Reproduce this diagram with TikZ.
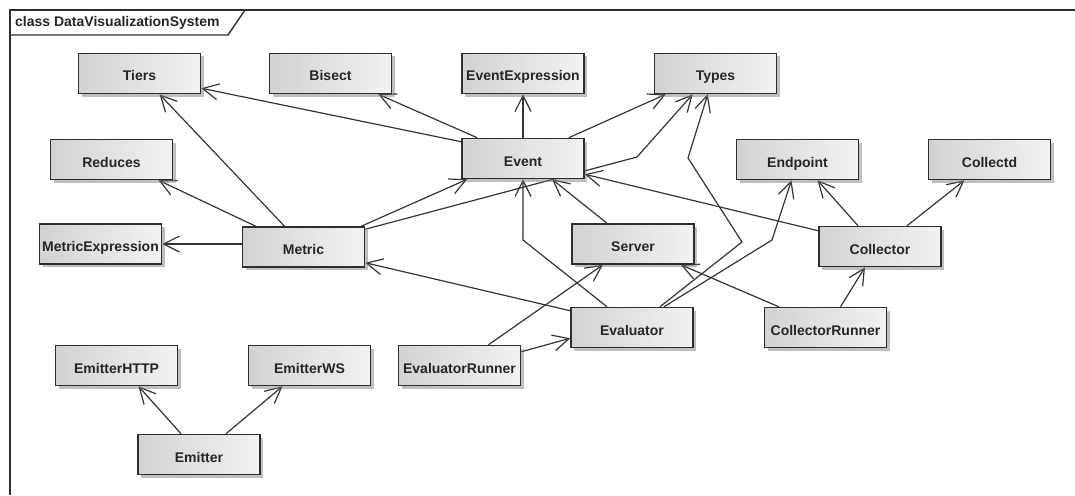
\documentclass[tikz,border=0pt]{standalone}
\usepackage{fontspec}
\setmainfont{Liberation Sans}
\usetikzlibrary{arrows.meta,shadows,backgrounds}

\definecolor{edgecol}{HTML}{353535}
\definecolor{boxline}{HTML}{2E2E2E}
\definecolor{boxdark}{HTML}{D2D2D2}
\definecolor{boxlight}{HTML}{F2F2F2}

\tikzset{
  cls/.style={draw=boxline, line width=1.5pt, left color=boxdark, right color=boxlight,
    minimum width=122pt, minimum height=40pt, inner sep=0pt,
    text height=15.5pt, text depth=0.5pt,
    font=\bfseries\fontsize{14}{16}\selectfont, text=black!85,
    drop shadow={shadow xshift=3pt, shadow yshift=-3pt, fill=black!55, opacity=.45}},
  assoc/.style={draw=edgecol, line width=1.2pt,
    -{Straight Barb[length=16pt,width=16pt,line width=1.2pt]}},
  framerule/.style={draw=boxline, line width=1.4pt}
}

\begin{document}
\begin{tikzpicture}[x=1pt, y=-1pt]
\useasboundingbox (0,0) rectangle (1075,495);

% class boxes
\node[cls] (Tiers)            at (139.5, 73.5) {Tiers};
\node[cls] (Bisect)           at (330.5, 73.5) {Bisect};
\node[cls] (EventExpression)  at (523,   73.5) {EventExpression};
\node[cls] (Types)            at (715.5, 73.5) {Types};
\node[cls] (Reduces)          at (111.5,159.5) {Reduces};
\node[cls] (Event)            at (523,  158.5) {Event};
\node[cls] (Endpoint)         at (797.5,159.5) {Endpoint};
\node[cls] (Collectd)         at (989.5,159.5) {Collectd};
\node[cls] (MetricExpression) at (100.5,244)   {MetricExpression};
\node[cls] (Metric)           at (303.5,247)   {Metric};
\node[cls] (Server)           at (633,  244)   {Server};
\node[cls] (Collector)        at (880,  246.5) {Collector};
\node[cls] (Evaluator)        at (632,  327.5) {Evaluator};
\node[cls] (CollectorRunner)  at (825.5,327.5) {CollectorRunner};
\node[cls] (EmitterHTTP)      at (116.5,365.5) {EmitterHTTP};
\node[cls] (EmitterWS)        at (309.5,365.5) {EmitterWS};
\node[cls] (EvaluatorRunner)  at (459.5,365.5) {EvaluatorRunner};
\node[cls] (Emitter)          at (199,  454.5) {Emitter};

% bend points of routed connectors
\coordinate (bendMT)  at (637,157);
\coordinate (bendET1) at (742,242);
\coordinate (bendET2) at (688,158);
\coordinate (bendEE)  at (772,240);
\coordinate (bendEv)  at (523,240);

\begin{scope}[on background layer]
  \fill[white] (0,0) rectangle (1075,495);

  % Event
  \draw[assoc] ([yshift=-4pt]Event.north west) -- ([yshift=6pt]Tiers.south east);
  \draw[assoc] ([xshift=16pt]Event.north west) -- ([xshift=-14pt]Bisect.south east);
  \draw[assoc] (Event.north) -- (EventExpression.south);
  \draw[assoc] ([xshift=-16pt]Event.north east) -- ([xshift=12pt]Types.south west);

  % Metric
  \draw[assoc] ([xshift=-19pt]Metric.north) -- ([xshift=20pt]Tiers.south);
  \draw[assoc] ([xshift=14pt]Metric.north west) -- ([xshift=47pt]Reduces.south);
  \draw[assoc] ([yshift=3pt]Metric.west) -- (MetricExpression.east);
  \draw[assoc] ([xshift=-4pt]Metric.north east) -- ([xshift=6pt]Event.south west);
  \draw[assoc] ([yshift=-3pt]Metric.north east) -- (bendMT) -- ([xshift=39pt]Types.south west);

  % Evaluator
  \draw[assoc] ([xshift=28pt]Evaluator.north) -- (bendET1) -- (bendET2) -- ([xshift=54pt]Types.south west);
  \draw[assoc] ([xshift=32pt]Evaluator.north) -- (bendEE) -- ([xshift=-6pt]Endpoint.south);
  \draw[assoc] ([xshift=-25pt]Evaluator.north) -- (bendEv) -- (Event.south);
  \draw[assoc] ([yshift=-4pt]Evaluator.north west) -- ([yshift=5pt]Metric.south east);

  % runners
  \draw[assoc] ([xshift=29pt]EvaluatorRunner.north) -- ([xshift=-30pt]Server.south);
  \draw[assoc] ([yshift=-7pt]EvaluatorRunner.north east) -- ([yshift=10pt]Evaluator.south west);
  \draw[assoc] ([xshift=15pt]CollectorRunner.north west) -- ([xshift=-14pt]Server.south east);
  \draw[assoc] ([xshift=15pt]CollectorRunner.north) -- ([xshift=-15pt]Collector.south);

  % Collector and Server
  \draw[assoc] ([xshift=-22pt]Collector.north) -- ([xshift=20pt]Endpoint.south);
  \draw[assoc] ([xshift=27pt]Collector.north) -- ([xshift=-25pt]Collectd.south);
  \draw[assoc] ([yshift=-5pt]Collector.north west) -- ([yshift=5pt]Event.south east);
  \draw[assoc] ([xshift=-26pt]Server.north) -- ([xshift=29pt]Event.south);

  % Emitter
  \draw[assoc] ([xshift=-18pt]Emitter.north) -- ([xshift=22pt]EmitterHTTP.south);
  \draw[assoc] ([xshift=27pt]Emitter.north) -- ([xshift=-27pt]EmitterWS.south);
\end{scope}

% diagram frame with name tab
\draw[framerule] (10,495) -- (10,10) -- (1075,10);
\draw[framerule] (10,35) -- (228,35) -- (245,10);
\node[anchor=west, inner sep=0pt, font=\bfseries\fontsize{14}{16}\selectfont, text=black!85]
  (title) at (15,23) {class DataVisualizationSystem};
\end{tikzpicture}
\end{document}
